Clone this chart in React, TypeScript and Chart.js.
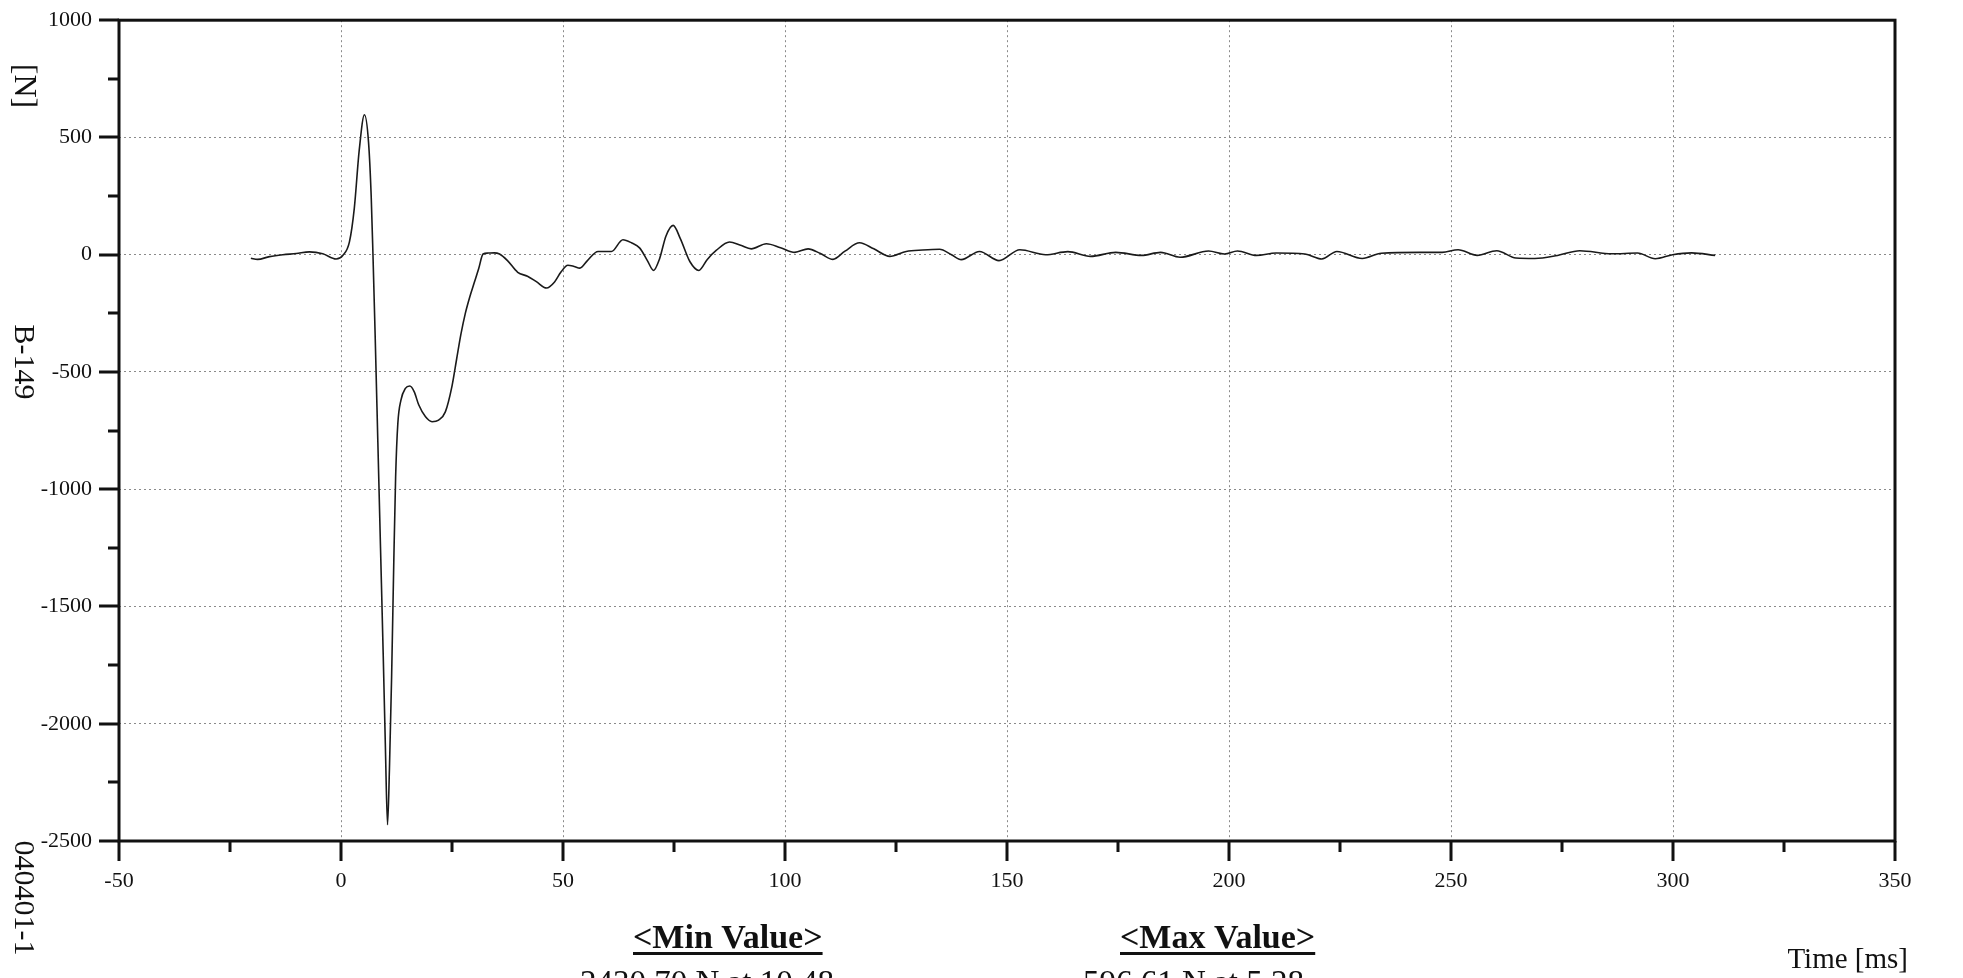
import React, { useEffect, useRef } from "react";
import { Chart, registerables } from "chart.js";

Chart.register(...registerables);

// ---- data ----
const timeMs: number[] = [
  -20.3, -18.8, -16.1, -13.1, -10.1, -7.1, -4.1, -1.1, 0.4, 1.9,
  3.0, 4.1, 5.28, 6.2, 6.8, 7.2, 7.7, 8.3, 8.9, 9.5,
  10.0, 10.48, 10.9, 11.4, 11.9, 12.3, 12.8, 13.5, 14.5, 15.5,
  16.5, 17.5, 19.0, 20.5, 22.0, 23.5, 25.0, 26.0, 27.0, 28.0,
  29.0, 30.0, 31.0, 32.0, 33.1, 34.5, 35.7, 37.5, 39.8, 42.0,
  44.0, 46.3, 48.1, 49.5, 51.1, 52.5, 53.8, 55.5, 57.9, 60.9,
  63.5, 65.5, 67.3, 69.0, 70.4, 71.7, 73.2, 74.8, 76.4, 78.6,
  80.6, 82.5, 84.5, 87.5, 90.0, 92.4, 95.8, 99.0, 102.2, 105.2,
  108.0, 110.8, 113.5, 116.8, 120.0, 123.6, 127.3, 131.0, 134.8, 137.5,
  139.7, 143.8, 148.2, 152.9, 158.7, 163.7, 168.8, 174.5, 180.3, 184.6,
  189.0, 195.4, 199.0, 201.9, 206.2, 210.6, 217.1, 220.9, 224.3, 230.0,
  234.3, 243.0, 248.0, 251.6, 255.9, 260.3, 264.6, 268.9, 274.0, 279.0,
  286.2, 292.0, 296.0, 299.9, 304.2, 309.5,
];

const forceN: number[] = [
  -15, -20, -8, 0, 5, 12, 4, -18, -3, 55,
  199, 445, 596.61, 480, 250, 0, -350, -800, -1250, -1700,
  -2100, -2430.7, -2200, -1800, -1300, -950, -720, -620, -570, -560,
  -585, -640, -690, -712, -705, -670, -560, -450, -340, -250,
  -180, -120, -60, 3, 7, 8, 3, -25, -75, -92,
  -115, -142, -116, -75, -45, -50, -57, -25, 14, 14,
  64, 50, 28, -25, -67, -20, 80, 125, 70, -30,
  -67, -20, 18, 54, 40, 25, 47, 30, 10, 25,
  5, -20, 15, 51, 25, -7, 14, 20, 23, 0,
  -21, 14, -25, 21, 0, 13, -7, 10, -3, 10,
  -11, 16, 3, 16, -3, 7, 3, -18, 14, -16,
  6, 10, 10, 21, -3, 17, -14, -16, -3, 17,
  4, 7, -17, 0, 8, -3,
];

const xBounds = [-50, 350];
const yBounds = [-2500, 1000];
const xMajorStep = 50;
const xMinorStep = 25;
const yMajorStep = 500;
const yMinorStep = 250;

const sideLabels = ["[N]", "B-149", "040401-1"];
const xAxisTitle = "Time [ms]";
const summaryTitles = ["<Min Value>", "<Max Value>"];
const summaryValues = ["2430.70 N at 10.48", "596.61 N at 5.28"];

// ---- layout ----
const W = 1963;
const H = 978;
const PLOT = { left: 119, right: 1895, top: 18, bottom: 841 };
const FONT = '"Liberation Serif", "Times New Roman", serif';
const sideLabelY = [86, 362, 898];
const summaryTitleX = [633, 1120];
const summaryValueX = [580, 1083];

const decorPlugin = {
  id: "decor",
  afterDraw(chart: any) {
    const { ctx, chartArea: a, scales } = chart;
    const xs = scales.x;
    const ys = scales.y;
    ctx.save();
    ctx.setLineDash([]);
    ctx.strokeStyle = "#111";
    ctx.lineWidth = 3;
    ctx.strokeRect(a.left, a.top, a.right - a.left, a.bottom - a.top);

    ctx.beginPath();
    for (let v = xBounds[0]; v <= xBounds[1]; v += xMinorStep) {
      const px = Math.round(xs.getPixelForValue(v));
      const len = v % xMajorStep === 0 ? 20 : 11;
      ctx.moveTo(px, a.bottom);
      ctx.lineTo(px, a.bottom + len);
    }
    for (let v = yBounds[0]; v <= yBounds[1]; v += yMinorStep) {
      const py = Math.round(ys.getPixelForValue(v));
      const len = v % yMajorStep === 0 ? 20 : 11;
      ctx.moveTo(a.left, py);
      ctx.lineTo(a.left - len, py);
    }
    ctx.stroke();

    ctx.fillStyle = "#111";
    ctx.textAlign = "center";
    ctx.textBaseline = "middle";
    sideLabels.forEach((t, i) => {
      ctx.save();
      ctx.font = `${i === 0 ? 32 : 30}px ${FONT}`;
      ctx.translate(23, sideLabelY[i]);
      ctx.rotate(Math.PI / 2);
      ctx.fillText(t, 0, 0);
      ctx.restore();
    });

    ctx.textAlign = "left";
    ctx.textBaseline = "alphabetic";
    ctx.font = `bold 34px ${FONT}`;
    summaryTitles.forEach((t, i) => {
      const x = summaryTitleX[i];
      ctx.fillText(t, x, 948);
      const w = ctx.measureText(t).width;
      ctx.fillRect(x, 952, w, 3);
    });
    ctx.font = `33px ${FONT}`;
    summaryValues.forEach((t, i) => {
      ctx.fillText(t, summaryValueX[i], 993);
    });
    ctx.font = `29px ${FONT}`;
    ctx.textAlign = "right";
    ctx.fillText(xAxisTitle, 1908, 968);
    ctx.restore();
  },
};

export default function App() {
  const canvasRef = useRef<HTMLCanvasElement | null>(null);

  useEffect(() => {
    const canvas = canvasRef.current;
    if (!canvas) return;
    const points = timeMs.map((t, i) => ({ x: t, y: forceN[i] }));
    const chart = new Chart(canvas, {
      type: "line",
      data: {
        datasets: [
          {
            data: points,
            borderColor: "#1a1a1a",
            borderWidth: 1.6,
            pointRadius: 0,
            fill: false,
            cubicInterpolationMode: "monotone",
          } as any,
        ],
      },
      options: {
        responsive: false,
        animation: false,
        layout: {
          padding: { left: 0, top: PLOT.top, right: W - PLOT.right, bottom: 0 },
        },
        plugins: {
          legend: { display: false },
          tooltip: { enabled: false },
        },
        scales: {
          x: {
            type: "linear",
            min: xBounds[0],
            max: xBounds[1],
            afterFit: (s: any) => {
              s.height = H - PLOT.bottom;
            },
            ticks: {
              stepSize: xMinorStep,
              autoSkip: false,
              maxRotation: 0,
              minRotation: 0,
              padding: 7,
              color: "#111",
              font: { family: FONT, size: 22 },
              callback: (v: any) => (Number(v) % xMajorStep === 0 ? String(v) : ""),
            },
            grid: {
              color: (c: any) =>
                c.tick && c.tick.value % xMajorStep === 0 ? "#8a8a8a" : "rgba(0,0,0,0)",
              lineWidth: 1,
              drawTicks: true,
              tickLength: 20,
              tickColor: "rgba(0,0,0,0)",
            },
            border: { display: false, dash: [2, 3] },
          },
          y: {
            type: "linear",
            min: yBounds[0],
            max: yBounds[1],
            afterFit: (s: any) => {
              s.width = PLOT.left;
            },
            ticks: {
              stepSize: yMinorStep,
              autoSkip: false,
              padding: 7,
              color: "#111",
              font: { family: FONT, size: 22 },
              callback: (v: any) => (Number(v) % yMajorStep === 0 ? String(v) : ""),
            },
            grid: {
              color: (c: any) =>
                c.tick && c.tick.value % yMajorStep === 0 ? "#8a8a8a" : "rgba(0,0,0,0)",
              lineWidth: 1,
              drawTicks: true,
              tickLength: 20,
              tickColor: "rgba(0,0,0,0)",
            },
            border: { display: false, dash: [2, 3] },
          },
        },
      },
      plugins: [decorPlugin],
    });
    return () => chart.destroy();
  }, []);

  return (
    <div
      style={{
        position: "fixed",
        left: 0,
        top: 0,
        width: W,
        height: H,
        background: "#fff",
        overflow: "hidden",
      }}
    >
      <canvas ref={canvasRef} width={W} height={H} style={{ display: "block" }} />
    </div>
  );
}
